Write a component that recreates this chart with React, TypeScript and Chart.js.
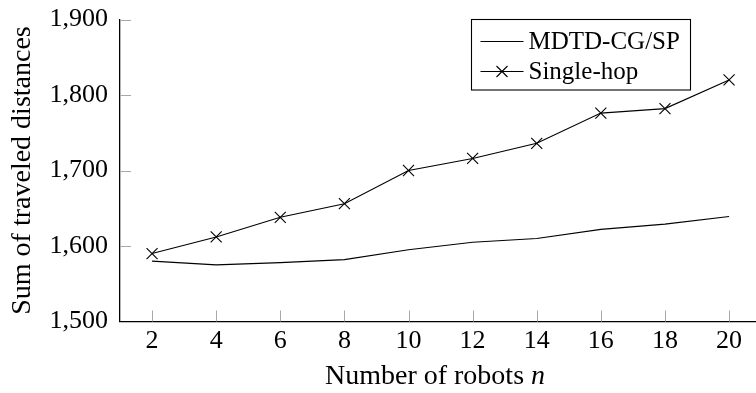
import React, { useEffect, useRef } from "react";
import { Chart, registerables } from "chart.js";

Chart.register(...registerables);

// ---- data ----
const robots = [2, 4, 6, 8, 10, 12, 14, 16, 18, 20];
const mdtdValues = [1580, 1575, 1578, 1582, 1595, 1605, 1610, 1622, 1629, 1639];
const singleHopValues = [1590, 1612, 1638, 1656, 1700, 1716, 1736, 1776, 1782, 1820];
const seriesLabels = ["MDTD-CG/SP", "Single-hop"];
const xTickValues = [2, 4, 6, 8, 10, 12, 14, 16, 18, 20];
const yTickValues = [1500, 1600, 1700, 1800, 1900];
const yTickLabels = ["1,500", "1,600", "1,700", "1,800", "1,900"];
const xTitleText = "Number of robots ";
const xTitleVar = "n";
const yTitleText = "Sum of traveled distances";

const FAMILY = "'Liberation Serif', 'Times New Roman', serif";
const TICK_SIZE = 26;
const TITLE_SIZE = 28;
const LEGEND_SIZE = 25;

const inwardTicks = {
  id: "inwardTicks",
  beforeDatasetsDraw(chart: any) {
    const { ctx, chartArea, scales } = chart;
    const x = scales.x;
    const y = scales.y;
    ctx.save();
    ctx.strokeStyle = "#a8a8a8";
    ctx.lineWidth = 1;
    ctx.beginPath();
    for (const t of x.ticks) {
      const px = Math.round(x.getPixelForValue(t.value)) + 0.5;
      ctx.moveTo(px, chartArea.bottom);
      ctx.lineTo(px, chartArea.bottom - 11);
    }
    for (const t of y.ticks) {
      if (t.value === y.min) continue;
      const py = Math.round(y.getPixelForValue(t.value)) + 0.5;
      ctx.moveTo(chartArea.left, py);
      ctx.lineTo(chartArea.left + 11, py);
    }
    ctx.stroke();
    ctx.restore();
  },
};

function drawCross(ctx: CanvasRenderingContext2D, cx: number, cy: number, h: number) {
  ctx.beginPath();
  ctx.moveTo(cx - h, cy - h);
  ctx.lineTo(cx + h, cy + h);
  ctx.moveTo(cx - h, cy + h);
  ctx.lineTo(cx + h, cy - h);
  ctx.stroke();
}

const boxLegend = {
  id: "boxLegend",
  afterDraw(chart: any) {
    const { ctx } = chart;
    const datasets = chart.data.datasets;
    const left = 471.5;
    const top = 19.5;
    const sampleStart = left + 9;
    const sampleLen = 43;
    const textX = sampleStart + sampleLen + 5;
    const rowH = 30;
    ctx.save();
    ctx.font = `${LEGEND_SIZE}px ${FAMILY}`;
    let maxW = 0;
    for (const d of datasets) maxW = Math.max(maxW, ctx.measureText(d.label).width);
    const right = Math.round(textX + maxW + 10) + 0.5;
    const bottom = top + 70.5;
    ctx.fillStyle = "#ffffff";
    ctx.fillRect(left, top, right - left, bottom - top);
    ctx.strokeStyle = "#000000";
    ctx.lineWidth = 1.1;
    ctx.strokeRect(left, top, right - left, bottom - top);
    datasets.forEach((d: any, i: number) => {
      const cy = top + 22 + i * rowH;
      ctx.strokeStyle = "#000000";
      ctx.lineWidth = 1.1;
      ctx.beginPath();
      ctx.moveTo(sampleStart, cy);
      ctx.lineTo(sampleStart + sampleLen, cy);
      ctx.stroke();
      if (d.pointRadius > 0) drawCross(ctx, sampleStart + sampleLen / 2, cy, 5.5);
      ctx.fillStyle = "#000000";
      ctx.textBaseline = "middle";
      ctx.textAlign = "left";
      ctx.fillText(d.label, textX, cy + 1);
    });
    ctx.restore();
  },
};

const xTitlePlugin = {
  id: "xTitlePlugin",
  afterDraw(chart: any) {
    const { ctx, chartArea } = chart;
    ctx.save();
    const normal = `${TITLE_SIZE}px ${FAMILY}`;
    const italic = `italic ${TITLE_SIZE}px ${FAMILY}`;
    ctx.font = normal;
    const w1 = ctx.measureText(xTitleText).width;
    ctx.font = italic;
    const w2 = ctx.measureText(xTitleVar).width;
    const cx = (chartArea.left + chartArea.right) / 2 - 3;
    const start = cx - (w1 + w2) / 2;
    const baseline = 384;
    ctx.fillStyle = "#000000";
    ctx.textBaseline = "alphabetic";
    ctx.textAlign = "left";
    ctx.font = normal;
    ctx.fillText(xTitleText, start, baseline);
    ctx.font = italic;
    ctx.fillText(xTitleVar, start + w1, baseline);
    ctx.restore();
  },
};

export default function App() {
  const canvasRef = useRef<HTMLCanvasElement | null>(null);

  useEffect(() => {
    document.body.style.margin = "0";
    const canvas = canvasRef.current;
    if (!canvas) return;
    const chart = new Chart(canvas, {
      type: "line",
      data: {
        datasets: [
          {
            label: seriesLabels[0],
            data: robots.map((r, i) => ({ x: r, y: mdtdValues[i] })),
            borderColor: "#000000",
            borderWidth: 1.1,
            pointRadius: 0,
            tension: 0,
            fill: false,
          },
          {
            label: seriesLabels[1],
            data: robots.map((r, i) => ({ x: r, y: singleHopValues[i] })),
            borderColor: "#000000",
            borderWidth: 1.1,
            pointStyle: "crossRot",
            pointRadius: 7.8,
            pointBorderColor: "#000000",
            pointBorderWidth: 1.1,
            pointHoverRadius: 7.8,
            tension: 0,
            fill: false,
          },
        ],
      },
      options: {
        responsive: false,
        animation: false,
        devicePixelRatio: 1,
        layout: { autoPadding: false, padding: { top: 19.5, right: 0, left: 0, bottom: 0 } },
        plugins: {
          legend: { display: false },
          tooltip: { enabled: false },
          title: { display: false },
        },
        scales: {
          x: {
            type: "linear",
            min: 1,
            max: 20.84,
            grid: { display: false, drawTicks: false },
            border: { display: true, color: "#000000", width: 1.3 },
            afterBuildTicks: (scale: any) => {
              scale.ticks = xTickValues.map((v) => ({ value: v }));
            },
            afterFit: (scale: any) => {
              scale.height = 71.5;
              scale.paddingLeft = 0;
              scale.paddingRight = 0;
            },
            ticks: {
              color: "#000000",
              padding: 4,
              maxRotation: 0,
              autoSkip: false,
              font: { family: FAMILY, size: TICK_SIZE },
              callback: (v: any) => String(v),
            },
          },
          y: {
            type: "linear",
            min: 1500,
            max: 1900,
            grid: { display: false, drawTicks: false },
            border: { display: true, color: "#000000", width: 1.3 },
            afterBuildTicks: (scale: any) => {
              scale.ticks = yTickValues.map((v) => ({ value: v }));
            },
            afterFit: (scale: any) => {
              scale.width = 120;
              scale.paddingTop = 0;
              scale.paddingBottom = 0;
            },
            ticks: {
              color: "#000000",
              padding: 12,
              autoSkip: false,
              font: { family: FAMILY, size: TICK_SIZE },
              callback: (_v: any, i: number) => yTickLabels[i],
            },
            title: {
              display: true,
              text: yTitleText,
              color: "#000000",
              font: { family: FAMILY, size: TITLE_SIZE },
              padding: { top: 6, bottom: 0 },
            },
          },
        },
      },
      plugins: [inwardTicks, boxLegend, xTitlePlugin],
    } as any);
    return () => chart.destroy();
  }, []);

  return (
    <div style={{ position: "absolute", left: 0, top: 0, width: 756, height: 393, background: "#ffffff" }}>
      <canvas ref={canvasRef} width={756} height={393} style={{ display: "block" }} />
    </div>
  );
}
